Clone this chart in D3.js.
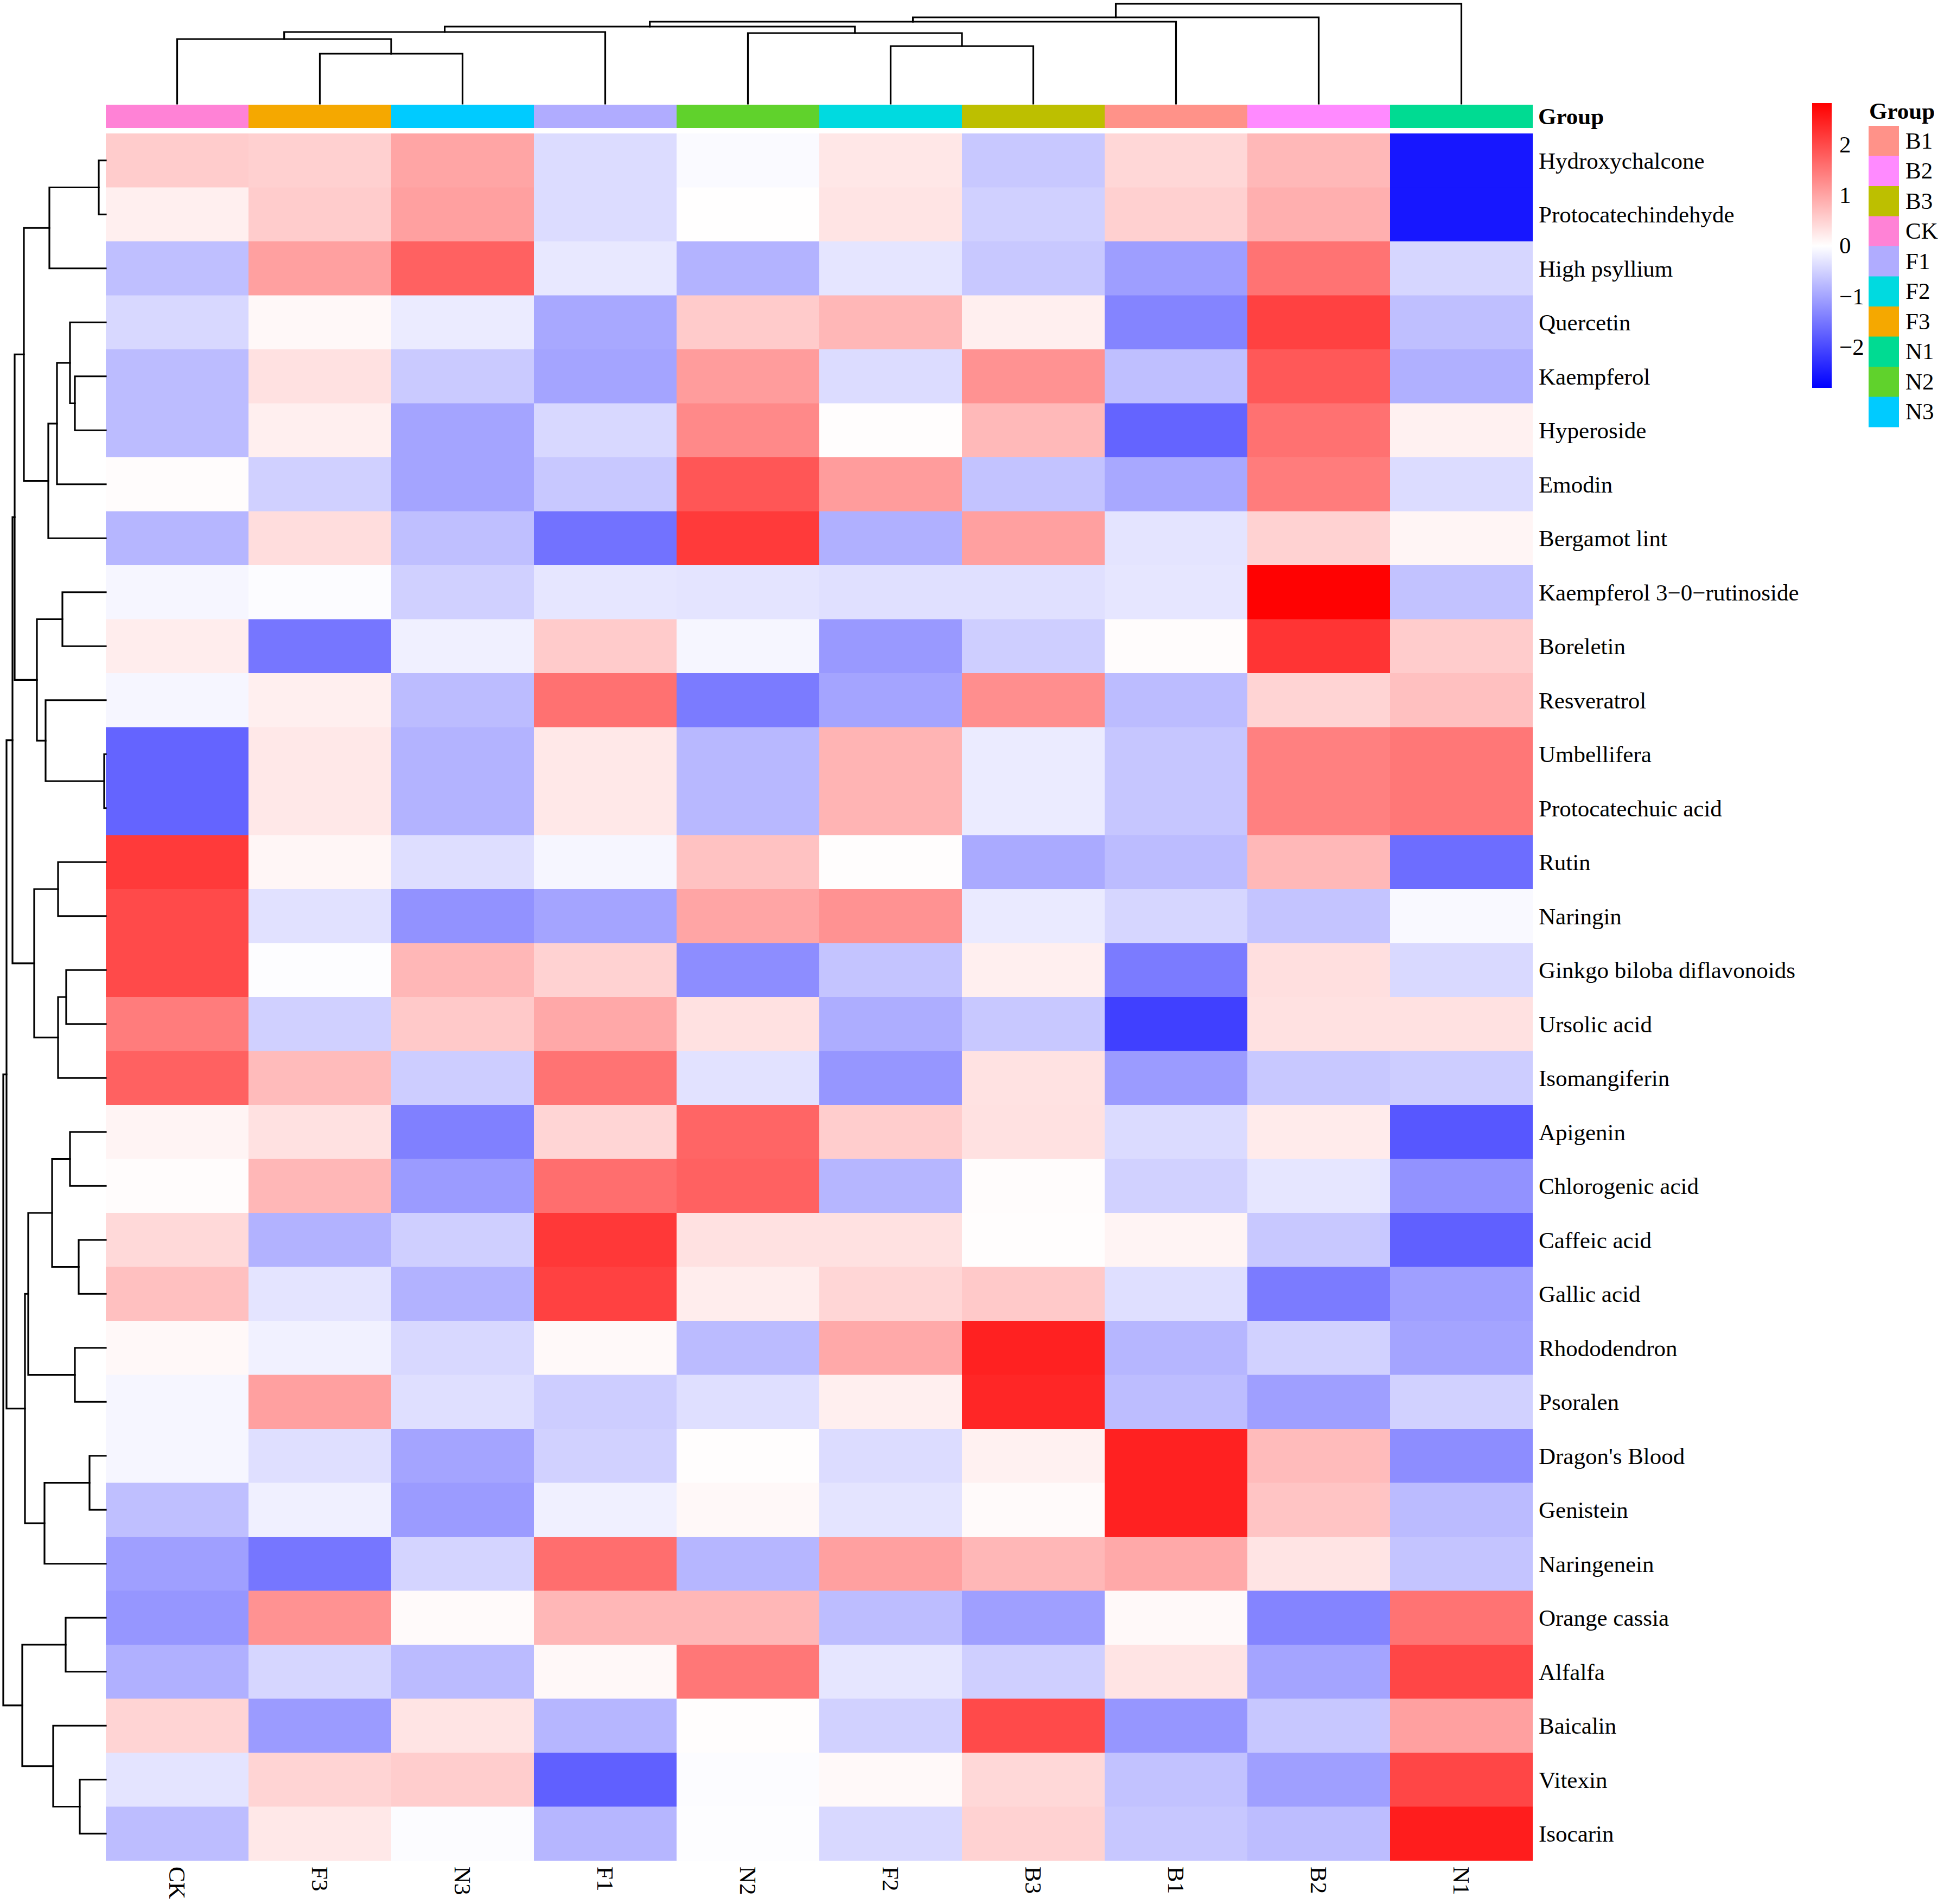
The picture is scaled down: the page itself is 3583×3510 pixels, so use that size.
<!DOCTYPE html>
<html><head><meta charset="utf-8">
<script src="https://cdn.jsdelivr.net/npm/d3@7/dist/d3.min.js"></script>
<style>html,body{margin:0;padding:0;background:#fff}svg{display:block}text{font-family:"Liberation Serif",serif;fill:#000}</style>
</head><body><svg id="c" width="3583" height="3510"></svg>
<script>
const columns = ["CK","F3","N3","F1","N2","F2","B3","B1","B2","N1"];
const rowLabels = ["Hydroxychalcone","Protocatechindehyde","High psyllium","Quercetin","Kaempferol","Hyperoside","Emodin","Bergamot lint","Kaempferol 3\u22120\u2212rutinoside","Boreletin","Resveratrol","Umbellifera","Protocatechuic acid","Rutin","Naringin","Ginkgo biloba diflavonoids","Ursolic acid","Isomangiferin","Apigenin","Chlorogenic acid","Caffeic acid","Gallic acid","Rhododendron","Psoralen","Dragon's Blood","Genistein","Naringenein","Orange cassia","Alfalfa","Baicalin","Vitexin","Isocarin"];
const values = [
[.56,.52,1.0,-.38,-.05,.27,-.6,.44,.78,-2.55],
[.18,.56,1.05,-.38,.01,.3,-.52,.52,.88,-2.55],
[-.7,1.05,1.75,-.25,-.83,-.28,-.6,-1.07,1.55,-.45],
[-.43,.08,-.22,-.96,.58,.8,.18,-1.35,2.1,-.7],
[-.74,.33,-.58,-1,1.1,-.38,1.2,-.7,1.85,-.87],
[-.74,.18,-1,-.43,1.3,.02,.77,-1.7,1.57,.16],
[.03,-.52,-1,-.6,1.87,1.1,-.66,-.96,1.45,-.38],
[-.8,.38,-.7,-1.55,2.18,-.87,1.05,-.3,.5,.11],
[-.1,-.03,-.52,-.27,-.3,-.34,-.34,-.27,2.8,-.67],
[.2,-1.5,-.17,.58,-.1,-1.12,-.54,.03,2.25,.56],
[-.1,.18,-.74,1.57,-1.45,-1,1.25,-.74,.48,.7],
[-1.7,.25,-.83,.25,-.78,.83,-.22,-.63,1.4,1.5],
[-1.7,.25,-.83,.25,-.78,.83,-.22,-.63,1.4,1.5],
[2.18,.1,-.36,-.1,.68,.02,-.93,-.74,.78,-1.6],
[2.0,-.33,-1.2,-1.0,1.0,1.2,-.23,-.45,-.65,-.07],
[2.0,-.02,.8,.5,-1.25,-.65,.18,-1.45,.35,-.42],
[1.45,-.52,.6,.96,.33,-.9,-.6,-2.1,.33,.33],
[1.75,.75,-.55,1.55,-.32,-1.15,.32,-1.1,-.6,-.55],
[.12,.33,-1.4,.47,1.7,.55,.33,-.4,.22,-1.85],
[.03,.8,-1.1,1.6,1.75,-.8,.03,-.5,-.27,-1.2],
[.42,-.85,-.53,2.2,.33,.33,.02,.12,-.6,-1.75],
[.7,-.3,-.85,2.1,.2,.45,.6,-.35,-1.45,-1.05],
[.08,-.15,-.43,.07,-.75,.95,2.45,-.8,-.5,-1.0],
[-.1,1.05,-.35,-.55,-.35,.18,2.4,-.72,-1.05,-.5],
[-.1,-.35,-1,-.5,.02,-.38,.15,2.45,.75,-1.25],
[-.7,-.17,-1.1,-.17,.08,-.3,.06,2.45,.65,-.75],
[-1.05,-1.5,-.47,1.6,-.8,1.05,.8,.95,.3,-.65],
[-1.15,1.2,.06,.8,.8,-.72,-1.05,.07,-1.35,1.55],
[-.87,-.45,-.75,.08,1.5,-.27,-.53,.3,-1.0,2.05],
[.48,-1.1,.3,-.8,.02,-.5,2.0,-1.15,-.62,1.05],
[-.3,.48,.55,-1.75,-.03,.07,.43,-.67,-1.05,2.05],
[-.72,.25,-.03,-.8,-.02,-.43,.5,-.62,-.72,2.5]
];
const legendGroups = ["B1","B2","B3","CK","F1","F2","F3","N1","N2","N3"];
const groupColours = ["#FF9289","#FF8AFF","#BDBF00","#FF82D6","#B0ACFF","#00DAE0","#F5A800","#00DB92","#60D22C","#00CBFF"];
const columnGroup = ["CK","F3","N3","F1","N2","F2","B3","B1","B2","N1"];
const colourTicks = [-2,-1,0,1,2];
const colourDomain = [-2.8,0,2.82];
// dendrograms: [height, child, child]; integers are leaf positions
const colTree = [184,[159,[151,[142,[132,[119,0,[92,1,2]],3],[130,4,[106,5,6]]],7],8],9];
const rowTree = [189,
 [183,
  [172,
   [168,
    [151,[104,[13,0,1],2],
         [106,[90,[66,3,[57,4,5]],6],7]],
    [127,[80,8,9],[111,10,[3,11,12]]]],
   [132,[88,13,14],[88,[73,15,16],17]]],
  [149,
   [143,[99,[66,18,19],[50,20,21]],[57,22,23]],
   [113,[30,24,25],26]]],
 [154,[74,27,28],[97,29,[48,30,31]]]];

const X0=195, X1=2825, Y0=246, Y1=3430;
const x = d3.scaleBand().domain(d3.range(columns.length)).range([X0,X1]);
const y = d3.scaleBand().domain(d3.range(rowLabels.length)).range([Y0,Y1]);
const colour = d3.scaleLinear().domain(colourDomain).range(["#0000ff","#ffffff","#ff0000"]);
const svg = d3.select("#c");
const FS = 43;

// heat cells
svg.append("g").selectAll("g").data(values).join("g").each(function(row,i){
  d3.select(this).selectAll("rect").data(row).join("rect")
    .attr("x",(d,j)=>x(j)).attr("y",y(i)).attr("width",x.bandwidth()).attr("height",y.bandwidth()+.5)
    .attr("fill",d=>colour(d));
});
// annotation bar
const gc = d3.scaleOrdinal().domain(legendGroups).range(groupColours);
svg.append("g").selectAll("rect").data(columnGroup).join("rect")
  .attr("x",(d,j)=>x(j)).attr("y",193).attr("width",x.bandwidth()).attr("height",43).attr("fill",d=>gc(d));
svg.append("text").attr("x",2835).attr("y",229).attr("font-size",FS).attr("font-weight","bold").text("Group");
// row labels
svg.append("g").selectAll("text").data(rowLabels).join("text")
  .attr("x",2836).attr("y",(d,i)=>y(i)+y.bandwidth()/2+15).attr("font-size",FS).text(d=>d);
// column labels
svg.append("g").selectAll("text").data(columns).join("text")
  .attr("transform",(d,j)=>`translate(${x(j)+x.bandwidth()/2-15},3441) rotate(90)`)
  .attr("font-size",FS).text(d=>d);

// dendrograms
function layout(tree){
  const root=d3.hierarchy(tree,d=>Array.isArray(d)?d.slice(1):null);
  root.eachAfter(n=>{
    if(n.children){n.pos=d3.mean(n.children,c=>c.pos);n.h=n.data[0];}
    else{n.pos=n.data;n.h=0;}
  });
  return root;
}
const colH=d3.scaleLinear().domain([0,184]).range([191,7]);
const rowH=d3.scaleLinear().domain([0,189]).range([195,6]);
const links=[];
layout(colTree).each(n=>{if(n.children){
  const [a,b]=n.children;
  const p=d3.path();
  const cx=k=>x(0)+x.bandwidth()*(k+.5);
  p.moveTo(cx(a.pos),colH(a.h));p.lineTo(cx(a.pos),colH(n.h));p.lineTo(cx(b.pos),colH(n.h));p.lineTo(cx(b.pos),colH(b.h));
  links.push(p);
}});
layout(rowTree).each(n=>{if(n.children){
  const [a,b]=n.children;
  const p=d3.path();
  const cy=k=>y(0)+y.bandwidth()*(k+.5);
  p.moveTo(rowH(a.h),cy(a.pos));p.lineTo(rowH(n.h),cy(a.pos));p.lineTo(rowH(n.h),cy(b.pos));p.lineTo(rowH(b.h),cy(b.pos));
  links.push(p);
}});
svg.append("g").selectAll("path").data(links).join("path")
  .attr("d",d=>d.toString()).attr("fill","none").attr("stroke","#000").attr("stroke-width",3.2).attr("stroke-linecap","square");

// colour bar
const barTop=190, barBottom=715, barX=3340, barW=36;
const cb=d3.scaleLinear().domain([colourDomain[2],colourDomain[0]]).range([barTop,barBottom]);
const defs=svg.append("defs");
const lg=defs.append("linearGradient").attr("id","cbar").attr("x1",0).attr("x2",0).attr("y1",0).attr("y2",1);
lg.selectAll("stop").data(colourDomain.slice().reverse()).join("stop")
  .attr("offset",d=>(cb(d)-barTop)/(barBottom-barTop)).attr("stop-color",d=>colour(d));
svg.append("rect").attr("x",barX).attr("y",barTop).attr("width",barW).attr("height",barBottom-barTop).attr("fill","url(#cbar)");
svg.append("g").selectAll("text").data(colourTicks).join("text")
  .attr("x",3390).attr("y",d=>cb(d)+14).attr("font-size",FS)
  .text(d=>d<0?"\u2212"+(-d):d);

// group legend
const ly=d3.scaleBand().domain(legendGroups).range([232,787]);
svg.append("text").attr("x",3445).attr("y",219).attr("font-size",FS).attr("font-weight","bold").text("Group");
svg.append("g").selectAll("rect").data(legendGroups).join("rect")
  .attr("x",3444).attr("y",d=>ly(d)).attr("width",56).attr("height",ly.bandwidth()+.5).attr("fill",d=>gc(d));
svg.append("g").selectAll("text").data(legendGroups).join("text")
  .attr("x",3512).attr("y",d=>ly(d)+ly.bandwidth()/2+14).attr("font-size",FS).text(d=>d);
</script></body></html>
